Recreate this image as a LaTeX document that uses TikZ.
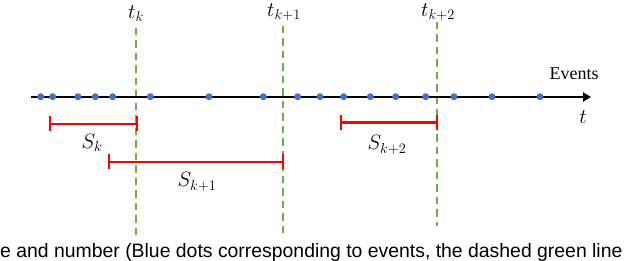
\documentclass[tikz,border=0pt]{standalone}
\usepackage{fontspec}
\usetikzlibrary{arrows.meta}
\newfontfamily\capfont{Liberation Sans}
\setmainfont{Liberation Serif}
\definecolor{dotblue}{HTML}{4472C4}
\definecolor{dgreen}{HTML}{70AD47}
\definecolor{ired}{HTML}{FF0000}
\begin{document}
\begin{tikzpicture}[x=1pt,y=-1pt,
  evdot/.style={circle,fill=dotblue,inner sep=0pt,minimum size=7pt},
  gline/.style={dgreen,line width=2.6pt,dash pattern=on 7.5pt off 5pt},
  interval/.style={ired,line width=2.4pt,{Bar[width=15pt,line width=2.4pt]}-{Bar[width=15pt,line width=2.4pt]},shorten <=-1.2pt,shorten >=-1.2pt},
  tlab/.style={font=\fontsize{22}{24}\selectfont,inner sep=0pt},
  slab/.style={font=\fontsize{20}{22}\selectfont,inner sep=0pt}]
\useasboundingbox (0,0) rectangle (640,261);
\clip (0,0) rectangle (640,261);
% dashed lines
\coordinate (g1t) at (136,28); \coordinate (g1b) at (136,236);
\coordinate (g2t) at (283,26); \coordinate (g2b) at (283,238);
\coordinate (g3t) at (437,22); \coordinate (g3b) at (437,226);
\draw[gline] (g1t) -- (g1b);
\draw[gline] (g2t) -- (g2b);
\draw[gline] (g3t) -- (g3b);
% axis
\coordinate (a0) at (31,97); \coordinate (a1) at (591,97);
\draw[line width=2.6pt,-{Triangle[length=8pt,width=9pt]}] (a0) -- (a1);
% dots
\foreach \x [count=\i] in {40.7,52.7,78,95.3,112.7,150.3,209,263.3,297.7,320,343.7,370.3,395.7,425.7,454,492,540}
  \node[evdot] (e\i) at (\x,96.7) {};
% labels
\node[tlab] (tk) at (136,14) {$t_k$};
\node[tlab] (tk1) at (284,12.5) {$t_{k+1}$};
\node[tlab] (tk2) at (438,12.5) {$t_{k+2}$};
\node[font=\fontsize{18}{20}\selectfont,inner sep=0pt] (ev) at (574,74) {Events};
\node[tlab] (tt) at (583,117) {$t$};
% intervals
\coordinate (s1a) at (50,124); \coordinate (s1b) at (137,124);
\coordinate (s2a) at (109,162); \coordinate (s2b) at (283,162);
\coordinate (s3a) at (341,122.5); \coordinate (s3b) at (437,122.5);
\draw[interval] (s1a) -- (s1b);
\draw[interval] (s2a) -- (s2b);
\draw[interval] (s3a) -- (s3b);
\node[slab] (sk) at (92,143) {$S_k$};
\node[slab] (sk1) at (197,182) {$S_{k+1}$};
\node[slab] (sk2) at (387,145) {$S_{k+2}$};
% caption
\node[font=\capfont\fontsize{19.4}{21}\selectfont,anchor=base west,inner sep=0pt] (cap) at (0,258) {e and number (Blue dots corresponding to events, the dashed green line};
\end{tikzpicture}
\end{document}
